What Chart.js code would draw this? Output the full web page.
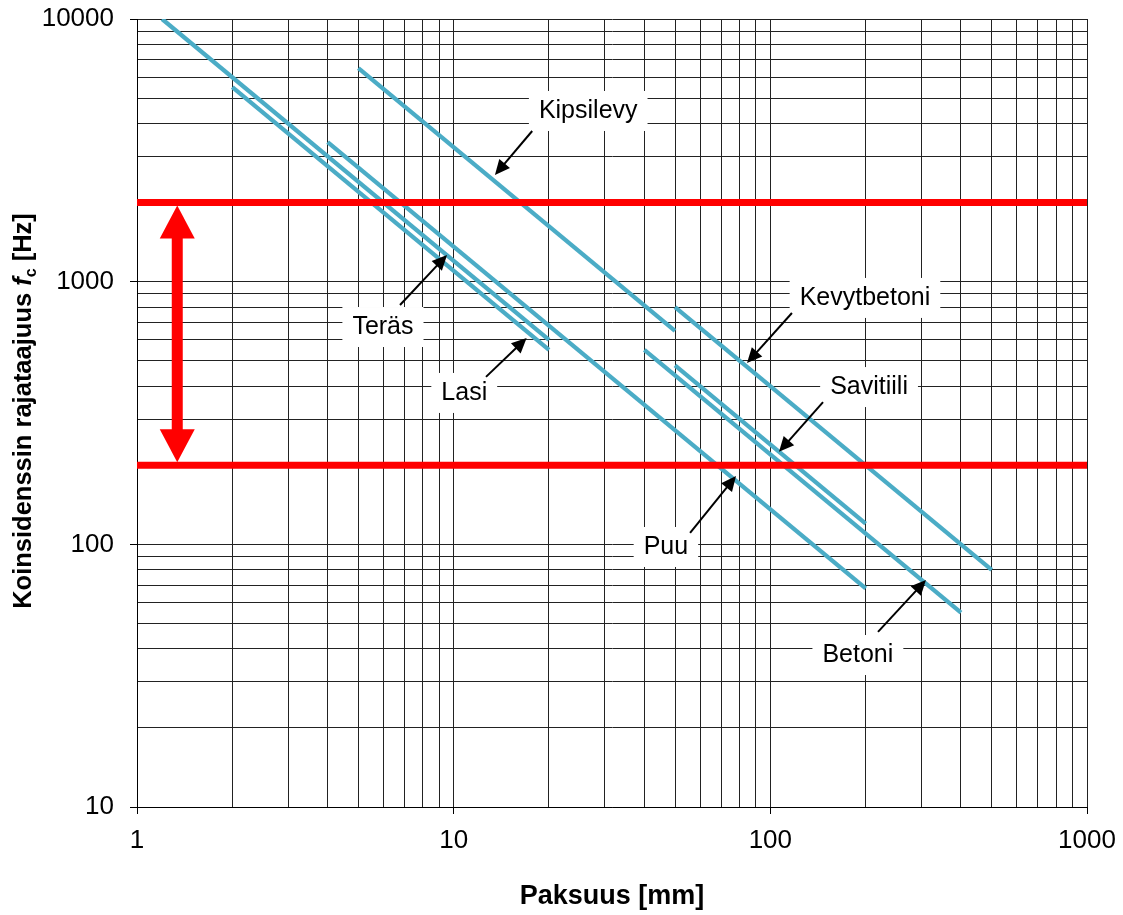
<!DOCTYPE html>
<html><head><meta charset="utf-8">
<script src="https://cdn.jsdelivr.net/npm/chart.js@4.4.0/dist/chart.umd.min.js"></script>
<style>html,body{margin:0;padding:0;background:#fff}#wrap{width:1123px;height:915px;position:relative}</style>
</head><body><div id="wrap"><canvas id="c"></canvas></div>
<script>
// ---- data (thickness mm, coincidence frequency Hz) ----
const terasX = [1.2, 20];   const terasY = [10000, 600];
const lasiX  = [2, 20];     const lasiY  = [5500, 550];
const puuX   = [4, 200];    const puuY   = [3400, 68];
const kipsiX = [5, 50];     const kipsiY = [6500, 650];
const betoniX = [40, 400];  const betoniY = [550, 55];
const tiiliX = [50, 200];   const tiiliY = [480, 120];
const kevytX = [50, 500];   const kevytY = [800, 80];
const rangeLimits = [200, 2000];
const xTickLabels = [1, 10, 100, 1000];
const yTickLabels = [10, 100, 1000, 10000];
const xRange = [1, 1000];
const yRange = [10, 10000];

const FONT = "'Liberation Sans', Arial, sans-serif";
const TEAL = '#4BACC6';
const RED = '#FF0000';

function pts(xs, ys){ return xs.map((v,i)=>({x:v, y:ys[i]})); }
function logTicks(lo, hi){
  const out = [];
  for (let d = lo; d < hi; d *= 10) for (let k = 1; k <= 9; k++) out.push(k*d);
  out.push(hi);
  return out;
}
const isPow10 = v => Math.abs(Math.log10(v) - Math.round(Math.log10(v))) < 1e-9;

// annotation labels: text, centre (data coords), arrow tail & tip (data coords)
const notes = [
  {t:'Kipsilevy',   c:[26.6, 4465], a:[17.7, 3746], b:[13.5, 2548]},
  {t:'Teräs',       c:[5.98, 672],  a:[6.77, 815],  b:[9.53, 1264]},
  {t:'Lasi',        c:[10.8, 377],  a:[12.65, 434], b:[17.0, 610]},
  {t:'Kevytbetoni', c:[199, 867],   a:[117, 760],   b:[84.4, 490]},
  {t:'Savitiili',   c:[205, 397],   a:[146.7, 348], b:[106.5, 225]},
  {t:'Puu',         c:[46.8, 97.7], a:[55.8, 110.5],b:[77.9, 182]},
  {t:'Betoni',      c:[189, 37.9],  a:[218.8, 46.4],b:[310, 73.1]}
];
const dblArrowX = 1.34;

function arrowHead(ctx, x1, y1, x2, y2, len, half){
  const ang = Math.atan2(y2-y1, x2-x1);
  ctx.beginPath();
  ctx.moveTo(x2, y2);
  ctx.lineTo(x2 - len*Math.cos(ang) + half*Math.sin(ang), y2 - len*Math.sin(ang) - half*Math.cos(ang));
  ctx.lineTo(x2 - len*Math.cos(ang) - half*Math.sin(ang), y2 - len*Math.sin(ang) + half*Math.cos(ang));
  ctx.closePath();
  ctx.fill();
}

const annot = {
  id: 'annot',
  afterDatasetsDraw(chart){
    const {ctx, scales:{x, y}} = chart;
    ctx.save();
    // red double arrow
    const ax = x.getPixelForValue(dblArrowX);
    const yTop = y.getPixelForValue(rangeLimits[1]) + 3;
    const yBot = y.getPixelForValue(rangeLimits[0]) - 3;
    const hl = 33, hw = 17.5, sw = 5.5;
    ctx.fillStyle = RED;
    ctx.fillRect(ax - sw, yTop + hl - 1, sw*2, (yBot - hl + 1) - (yTop + hl - 1));
    ctx.beginPath(); ctx.moveTo(ax, yTop); ctx.lineTo(ax + hw, yTop + hl); ctx.lineTo(ax - hw, yTop + hl); ctx.closePath(); ctx.fill();
    ctx.beginPath(); ctx.moveTo(ax, yBot); ctx.lineTo(ax + hw, yBot - hl); ctx.lineTo(ax - hw, yBot - hl); ctx.closePath(); ctx.fill();

    // labels with arrows
    ctx.font = '25px ' + FONT;
    ctx.textAlign = 'center';
    ctx.textBaseline = 'middle';
    notes.forEach(n => {
      const cx = x.getPixelForValue(n.c[0]), cy = y.getPixelForValue(n.c[1]);
      const w = ctx.measureText(n.t).width;
      ctx.fillStyle = '#fff';
      ctx.fillRect(cx - w/2 - 10, cy - 20, w + 20, 40);
      ctx.fillStyle = '#000';
      ctx.fillText(n.t, cx, cy);
      const x1 = x.getPixelForValue(n.a[0]), y1 = y.getPixelForValue(n.a[1]);
      const x2 = x.getPixelForValue(n.b[0]), y2 = y.getPixelForValue(n.b[1]);
      const ang = Math.atan2(y2-y1, x2-x1);
      ctx.strokeStyle = '#000';
      ctx.lineWidth = 2;
      ctx.beginPath();
      ctx.moveTo(x1, y1);
      ctx.lineTo(x2 - 12*Math.cos(ang), y2 - 12*Math.sin(ang));
      ctx.stroke();
      arrowHead(ctx, x1, y1, x2, y2, 15, 7);
    });

    // axis titles
    ctx.fillStyle = '#000';
    ctx.font = 'bold 27px ' + FONT;
    ctx.textAlign = 'center';
    ctx.textBaseline = 'middle';
    ctx.fillText('Paksuus [mm]', (chart.chartArea.left + chart.chartArea.right)/2, 897);

    ctx.translate(22, 411);
    ctx.rotate(-Math.PI/2);
    const parts = [
      {s:'Koinsidenssin rajataajuus ', f:'bold 25.5px ' + FONT, dy:0},
      {s:'f', f:'italic bold 25.5px ' + FONT, dy:0},
      {s:'c', f:'bold 16px ' + FONT, dy:5},
      {s:' [Hz]', f:'bold 25.5px ' + FONT, dy:0}
    ];
    let total = 0;
    parts.forEach(p => { ctx.font = p.f; p.w = ctx.measureText(p.s).width; total += p.w; });
    let px = -total/2;
    ctx.textAlign = 'left';
    ctx.textBaseline = 'alphabetic';
    parts.forEach(p => { ctx.font = p.f; ctx.fillText(p.s, px, 9 + p.dy); px += p.w; });
    ctx.restore();
  }
};

const gridCfg = {
  color: '#222',
  lineWidth: 1,
  tickLength: 7,
  tickColor: c => (c.tick && c.tick.major) ? '#000' : 'rgba(0,0,0,0)'
};
const noPad = s => { s.paddingTop = 0; s.paddingBottom = 0; s.paddingLeft = 0; s.paddingRight = 0; };

new Chart(document.getElementById('c'), {
  type: 'scatter',
  data: {
    datasets: [
      {data: pts(xRange, [rangeLimits[1], rangeLimits[1]]), borderColor: RED, borderWidth: 7},
      {data: pts(xRange, [rangeLimits[0], rangeLimits[0]]), borderColor: RED, borderWidth: 7},
      {label:'Teräs', data: pts(terasX, terasY)},
      {label:'Lasi', data: pts(lasiX, lasiY)},
      {label:'Puu', data: pts(puuX, puuY)},
      {label:'Kipsilevy', data: pts(kipsiX, kipsiY)},
      {label:'Betoni', data: pts(betoniX, betoniY)},
      {label:'Savitiili', data: pts(tiiliX, tiiliY)},
      {label:'Kevytbetoni', data: pts(kevytX, kevytY)}
    ].map(d => Object.assign({showLine:true, pointRadius:0, pointHoverRadius:0, borderColor:TEAL, borderWidth:4.3, fill:false, borderCapStyle:'butt'}, d))
  },
  options: {
    responsive: true,
    maintainAspectRatio: false,
    animation: false,
    events: [],
    layout: {padding: {top: 19, right: 36, left: 0, bottom: 0}},
    plugins: {legend: {display:false}, tooltip: {enabled:false}},
    scales: {
      x: {
        type: 'logarithmic', min: xRange[0], max: xRange[1], position: 'bottom',
        afterBuildTicks: s => { s.ticks = logTicks(xRange[0], xRange[1]).map(v => ({value:v, major:isPow10(v)})); },
        afterFit: s => { s.height = 108; noPad(s); },
        ticks: {autoSkip:false, maxRotation:0, padding:11, color:'#000', font:{family:FONT, size:26},
          callback: v => xTickLabels.some(t => Math.abs(t - v) < 1e-6) ? String(Math.round(v)) : ''},
        grid: gridCfg,
        border: {color:'#000', width:1}
      },
      y: {
        type: 'logarithmic', min: yRange[0], max: yRange[1], position: 'left',
        afterBuildTicks: s => { s.ticks = logTicks(yRange[0], yRange[1]).map(v => ({value:v, major:isPow10(v)})); },
        afterFit: s => { s.width = 137; noPad(s); },
        ticks: {autoSkip:false, padding:16, color:'#000', font:{family:FONT, size:26},
          callback: v => yTickLabels.some(t => Math.abs(t - v) < 1e-6) ? String(Math.round(v)) : ''},
        grid: gridCfg,
        border: {color:'#000', width:1}
      }
    }
  },
  plugins: [annot]
});
</script>
</body></html>
